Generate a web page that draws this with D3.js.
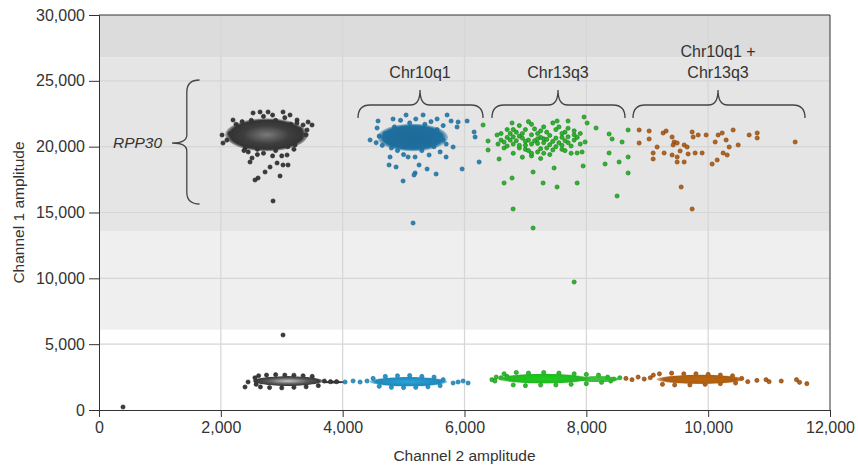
<!DOCTYPE html>
<html><head><meta charset="utf-8">
<script src="https://cdn.jsdelivr.net/npm/d3@7/dist/d3.min.js"></script>
<style>body{margin:0;background:#fff;} text{font-family:"Liberation Sans",Arial,sans-serif;}</style>
</head><body><svg id="c" width="858" height="467"></svg>
<script>
// ---- data ----
const xTicks = [0,2000,4000,6000,8000,10000,12000];
const yTicks = [0,5000,10000,15000,20000,25000,30000];
const bands = [[26800,30000,"#dcdcdc"],[13600,26800,"#e5e5e5"],[6100,13600,"#efefef"]];

const blackPts = [[2561,17469],[2611,17620],[2857,15874],[2972,17773],[2726,18076],[2479,18836],[2512,19139],[2808,18456],[2923,18760],[3021,18608],[3103,18608],[3087,19367],[3497,21646],[3415,21266],[3432,21874],[2020,20886],[2036,20278],[2200,22025],[2529,22557],[2644,22633],[2775,22633],[3021,22633],[3136,22405],[3251,22025],[3350,21646],[3300,20658],[3218,20126],[2300,21400],[2250,20600],[2400,19900],[2600,19800],[2900,19700],[3100,20000],[3200,20900],[3150,21700],[2900,22000],[2500,22000],[2350,21900],[2700,19500],[2450,19600],[3000,19300],[2150,21000],[3300,21300],[3400,20900],[2100,20500],[2250,21700],[2700,22300],[2850,22400],[3050,22200],[3250,21800],[2600,19400],[2850,19300],[3200,19800],[2380,19700],[3021,5696],[394,228]];
const bluePts = [[4450,20507],[4581,21950],[4827,22101],[5041,22405],[5320,22405],[5550,22101],[5714,22405],[5780,21950],[5895,21874],[5878,21494],[6043,21950],[6158,21114],[6174,20734],[5813,19975],[5698,19215],[5419,19367],[5189,19215],[5074,19215],[4778,19215],[4762,18608],[4877,18456],[5254,18608],[5386,18304],[5189,18000],[5172,17848],[5534,17924],[4992,17393],[5961,18304],[6240,18836],[5156,14203],[4565,21418],[5649,20507],[5600,20886],[4700,21000],[4650,20100],[4900,19700],[5300,19700],[5500,20000],[5550,21300],[5350,21700],[5100,21800],[4850,21500],[4750,20600],[4600,20800],[4950,22000],[5200,22100],[5450,21900],[5650,21600],[5700,20200],[5600,19600],[5000,19400],[4800,19900],[4550,20300]];
const greenPts = [[6305,21646],[6387,20431],[6387,19747],[6535,20886],[6568,19063],[6650,17241],[6781,17620],[6798,15266],[7126,13823],[6781,21798],[7290,17241],[7520,16937],[7849,17241],[7520,21950],[7700,21950],[7963,22253],[8013,21798],[8160,21418],[7980,20355],[7930,19595],[7947,18532],[7849,19519],[7471,18380],[7126,18076],[8374,20962],[8423,20582],[8374,19519],[8308,18684],[8538,18836],[8686,19215],[8686,18000],[8686,21266],[8505,16253],[8587,20355],[6700,21300],[6900,21600],[7100,21700],[7300,21500],[7500,21300],[7700,21400],[7800,20900],[7700,20300],[7600,19800],[7400,19400],[7100,19300],[6800,19500],[6650,19900],[6600,20500],[6900,20800],[7100,20200],[7300,20600],[7500,20000],[7000,19800],[7200,21000],[6800,20200],[7600,20700],[7900,21000],[6750,21000],[7350,19900],[7050,20500],[6950,19200],[7450,21800],[6850,21100],[7000,21300],[7250,21200],[7650,21100],[7800,20500],[7750,19500],[7250,19100],[6700,20700],[6550,20200],[7900,20200],[7050,21900],[7200,19600],[6900,19900],
 [6650,20350],[6750,20500],[6850,20450],[6950,20650],[7000,20100],[7100,20900],[7150,20450],[7200,20250],[7250,20700],[7300,20300],[7350,20550],[7400,20850],[7450,20400],[7500,20650],[7550,20300],[7600,21000],[7650,20450],[7700,20750],[7350,21100],[7150,21350],[6950,21000],[6800,20750],[6700,20050],[6900,20100],[7050,19700],[7250,19850],[7450,19750],[7600,20100],[7750,20050],[7850,20700],[7400,20150],[7200,20600],[7000,20400],[6800,21300],[7550,21500],[7800,21200],[7650,19700],[6600,21000],[7300,19500],[7100,19500],
 [7800,9722]];
const orangePts = [[8867,21266],[9031,21190],[8867,20279],[9031,20583],[9261,21038],[9310,21190],[9408,20734],[9442,20355],[9425,20127],[9162,19975],[9097,19519],[9097,19063],[9277,19519],[9408,19367],[9491,19215],[9491,18836],[9606,18836],[9540,19671],[9606,20127],[9655,19975],[9671,19443],[9737,21114],[9754,20734],[9836,20886],[9967,20886],[9786,19519],[9901,19519],[9557,16937],[9737,15266],[10115,20355],[10164,20886],[10230,21038],[10410,21266],[10295,20507],[10148,18988],[10065,18684],[10246,19519],[10312,19367],[10345,19975],[10493,20127],[10673,20886],[10805,21038],[10805,20659],[11428,20355],[9491,20279]];

const blackLow = [[2397,1747],[2447,2127],[2620,2600],[2750,2650],[2900,2680],[3050,2650],[3200,2640],[3350,2600],[3500,2550],[2650,1750],[2800,1700],[3000,1680],[3200,1720],[3400,1760],[3600,1850],[3700,2200],[3800,2150],[3900,2150],[2580,2200],[2560,2450],[2580,1950]];
const blueLow = [[4040,2127],[4171,2203],[4286,2127],[4400,2203],[5813,2051],[5895,2127],[5977,2203],[6059,2051],[4500,2400],[4700,2550],[4900,2600],[5100,2620],[5300,2550],[5500,2500],[5650,2300],[4600,1800],[4800,1720],[5000,1700],[5200,1720],[5400,1760],[5600,1850]];
const greenLow = [[6450,2300],[6520,2500],[6600,2450],[6700,2550],[6500,2200],[6650,2750],[6850,2850],[7050,2800],[7300,2850],[7550,2800],[7800,2750],[8000,2700],[8200,2650],[8350,2500],[8450,2350],[8550,2450],[6800,1900],[7000,1850],[7250,1900],[7500,1900],[7750,1950],[8000,2000],[8250,2100],[8400,2200]];
const orangeLow = [[8650,2400],[8750,2300],[8850,2500],[8950,2350],[9050,2450],[9100,2650],[9200,2750],[9400,2800],[9600,2750],[9800,2750],[10000,2700],[10200,2650],[10400,2600],[10550,2400],[9250,1950],[9450,1900],[9700,1900],[9950,1950],[10200,2000],[10450,2050],[10650,2150],[10800,2250],[10950,2300],[11000,2150],[11200,2200],[11450,2300],[11500,2100],[11620,2000]];

// cluster cores: [cx, cy, rx, ry] in data units
const coreBlackUp = [2750,20900,680,1250];
const coreBlueUp = [5150,20700,580,1050];
const coreBlackLow = [3100,2200,580,380];
const coreBlackTail = [3850,2120,200,100];
const coreBlueLow = [5080,2150,640,370];
const coreGreenLow = [7300,2380,760,380];
const coreGreenTail = [8200,2350,330,230];
const coreOrangeLow = [9870,2330,720,360];

// braces
const braceLabels = [["Chr10q1"],["Chr13q3"],["Chr10q1 +","Chr13q3"]];
const braceX = [[4252,6304,5270],[6451,8635,7535],[8766,11590,10162]];
const braceY = [22177,23165,24304];
const rppBrace = [1650,1200,25065,15646,20278]; // xEnd, xTip, yTop, yBottom, yMid
const rppLabel = "RPP30";

// ---- chart ----
const svg = d3.select("#c");
const m = {l:99, r:830, t:15, b:410};
const x = d3.scaleLinear().domain([0,12000]).range([m.l,m.r]);
const y = d3.scaleLinear().domain([0,30000]).range([m.b,m.t]);
const FS = 15.5;

const defs = svg.append("defs");
function radial(id, stops){
  const g = defs.append("radialGradient").attr("id",id);
  stops.forEach(s=>g.append("stop").attr("offset",s[0]).attr("stop-color",s[1]).attr("stop-opacity",s[2]==null?1:s[2]));
}
radial("gBlack",[["0%","#7a7a7a"],["55%","#3e3e3e"],["88%","#333"],["100%","#333",0.3]]);
radial("gBlackLow",[["0%","#c8c8c8"],["60%","#555"],["90%","#3a3a3a"],["100%","#3a3a3a",0.4]]);
radial("gBlue",[["0%","#1c6a97"],["85%","#1f6f9f"],["100%","#1f6f9f",0.3]]);
radial("gBlueLow",[["0%","#2aa4d8"],["85%","#1e88bb"],["100%","#1e88bb",0.4]]);
radial("gGreenLow",[["0%","#1ccf1c"],["85%","#22b822"],["100%","#22b822",0.4]]);
radial("gOrangeLow",[["0%","#b8680f"],["85%","#ad5d10"],["100%","#ad5d10",0.4]]);

svg.selectAll("rect.band").data(bands).join("rect")
  .attr("x",m.l).attr("width",m.r-m.l)
  .attr("y",d=>y(d[1])).attr("height",d=>y(d[0])-y(d[1]))
  .attr("fill",d=>d[2]);

svg.selectAll("line.vg").data(xTicks.slice(1,-1)).join("line")
  .attr("x1",d=>x(d)).attr("x2",d=>x(d)).attr("y1",m.t).attr("y2",m.b)
  .attr("stroke","#d6d6d6").attr("stroke-width",1.2);
svg.selectAll("line.hg").data(yTicks.slice(1,-1)).join("line")
  .attr("y1",d=>y(d)).attr("y2",d=>y(d)).attr("x1",m.l).attr("x2",m.r)
  .attr("stroke","#d6d6d6").attr("stroke-width",1.2);

function core(c, fill, op){
  svg.append("ellipse").attr("cx",x(c[0])).attr("cy",y(c[1]))
    .attr("rx",x(c[0]+c[2])-x(c[0])).attr("ry",y(c[1])-y(c[1]+c[3]))
    .attr("fill",fill).attr("opacity",op||1);
}
function dots(arr, fill, stroke){
  svg.append("g").selectAll("circle").data(arr).join("circle")
    .attr("cx",d=>x(d[0])).attr("cy",d=>y(d[1])).attr("r",2.1)
    .attr("fill",fill).attr("stroke",stroke).attr("stroke-width",0.6);
}
dots(blackPts,"#3a3a3a","#222");
dots(bluePts,"#2a82b5","#195f85");
dots(greenPts,"#2cb52c","#1a7a1a");
dots(orangePts,"#b5621a","#7a3e0a");
core(coreBlackUp,"url(#gBlack)");
core(coreBlueUp,"url(#gBlue)");
core(coreBlackTail,"#3a3a3a");
dots(blackLow,"#3a3a3a","#222");
dots(blueLow,"#2a95c8","#1a6d95");
dots(greenLow,"#2cc02c","#1a801a");
dots(orangeLow,"#b5621a","#7a3e0a");
core(coreBlackLow,"url(#gBlackLow)");
core(coreBlueLow,"url(#gBlueLow)");
core(coreGreenTail,"#28b828",0.9);
core(coreGreenLow,"url(#gGreenLow)");
core(coreOrangeLow,"url(#gOrangeLow)");

const braceG = svg.append("g").attr("fill","none").attr("stroke","#444").attr("stroke-width",1.3);
braceX.forEach((b,i)=>{
  const x0=x(b[0]), x1=x(b[1]), xt=x(b[2]);
  const ye=y(braceY[0]), yf=y(braceY[1]), yt=y(braceY[2]);
  const r = 8;
  const p = d3.path();
  p.moveTo(x0,ye);
  p.quadraticCurveTo(x0,yf,x0+r*1.5,yf);
  p.lineTo(xt-r*1.2,yf);
  p.quadraticCurveTo(xt,yf,xt,yt);
  p.quadraticCurveTo(xt,yf,xt+r*1.2,yf);
  p.lineTo(x1-r*1.5,yf);
  p.quadraticCurveTo(x1,yf,x1,ye);
  braceG.append("path").attr("d",p.toString());
  const lines = braceLabels[i];
  lines.forEach((t,j)=>{
    svg.append("text").attr("x",xt).attr("y",yt-12-(lines.length-1-j)*21)
      .attr("text-anchor","middle").attr("font-size",FS+0.5).attr("fill","#333").text(t);
  });
});
{
  const xe=x(rppBrace[0]), xt=x(rppBrace[1]), xm=(xe+xt)/2+1;
  const yT=y(rppBrace[2]), yB=y(rppBrace[3]), yM=y(rppBrace[4]);
  const p = d3.path();
  p.moveTo(xe,yT);
  p.quadraticCurveTo(xm,yT,xm,yT+12);
  p.lineTo(xm,yM-8);
  p.quadraticCurveTo(xm,yM,xt,yM);
  p.quadraticCurveTo(xm,yM,xm,yM+8);
  p.lineTo(xm,yB-12);
  p.quadraticCurveTo(xm,yB,xe,yB);
  braceG.append("path").attr("d",p.toString());
  svg.append("text").attr("x",xt-10).attr("y",yM+5).attr("text-anchor","end")
    .attr("font-size",FS).attr("font-style","italic").attr("fill","#333").text(rppLabel);
}

svg.append("path").attr("d",`M${m.l},${m.t}H${m.r}V${m.b}`).attr("fill","none").attr("stroke","#333").attr("stroke-width",1);

const fmt = d3.format(",");
const ax = svg.append("g").attr("transform",`translate(0,${m.b})`)
  .call(d3.axisBottom(x).tickValues(xTicks).tickFormat(fmt).tickSize(7).tickPadding(5));
const ay = svg.append("g").attr("transform",`translate(${m.l},0)`)
  .call(d3.axisLeft(y).tickValues(yTicks).tickFormat(fmt).tickSize(10).tickPadding(4));
[ax,ay].forEach(a=>{
  a.selectAll("text").attr("font-size",16).attr("fill","#333").style("font-family","'Liberation Sans',Arial,sans-serif");
  a.selectAll("line").attr("stroke","#333");
  a.select(".domain").attr("stroke","#333");
});

svg.append("text").attr("x",(m.l+m.r)/2).attr("y",461).attr("text-anchor","middle")
  .attr("font-size",FS).attr("fill","#333").text("Channel 2 amplitude");
svg.append("text").attr("transform",`translate(24,${(m.t+m.b)/2}) rotate(-90)`).attr("text-anchor","middle")
  .attr("font-size",FS).attr("fill","#333").text("Channel 1 amplitude");
</script></body></html>
